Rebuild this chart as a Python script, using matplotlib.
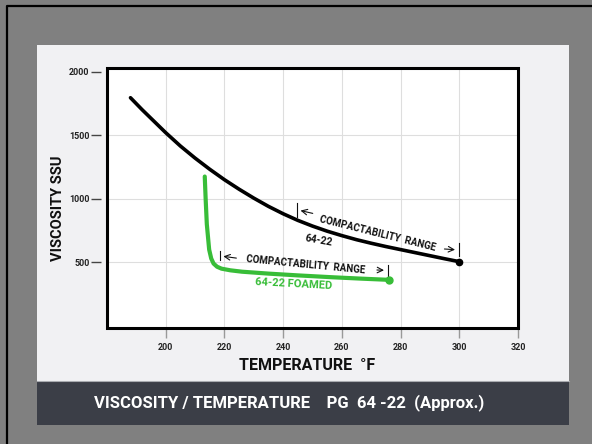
import matplotlib.pyplot as plt
from matplotlib.patches import Rectangle
from matplotlib.lines import Line2D

# values
temp_std = [188, 192, 196, 200, 205, 210, 215, 220, 225, 230, 235, 240, 245, 250,
            255, 260, 265, 270, 275, 280, 285, 290, 295, 300]
visc_std = [1795, 1700, 1610, 1520, 1415, 1320, 1232, 1150, 1075, 1005, 940, 882, 830, 785,
            745, 710, 678, 650, 624, 600, 576, 552, 528, 505]

temp_foam = [213.3, 213.6, 214.0, 214.8, 215.5, 216.3, 217.5, 219, 222, 226, 235, 245, 257, 267, 276]
visc_foam = [1175, 1000, 800, 600, 530, 490, 465, 450, 437, 426, 411, 397, 382, 371, 362]

x_ticks = [200, 220, 240, 260, 280, 300, 320]
y_ticks = [500, 1000, 1500, 2000]

FONT = ['Liberation Sans Narrow', 'Roboto', 'DejaVu Sans']
GREEN = '#38bd38'
W, H = 592, 444


def fx(px):
    return px / W


def fy(py):
    return 1 - py / H


fig = plt.figure(figsize=(5.92, 4.44), dpi=100)
fig.patch.set_facecolor('#808080')

# black frame lines at top and left
fig.add_artist(Line2D([fx(7), fx(7), 1], [0, fy(6), fy(6)], transform=fig.transFigure,
                      color='black', lw=1.6, zorder=-2))
# light panel and dark title band
fig.add_artist(Rectangle((fx(37), fy(381)), 532 / W, 336 / H, transform=fig.transFigure,
                         facecolor='#f1f1f3', edgecolor='none', zorder=-2))
fig.add_artist(Rectangle((fx(37), fy(425)), 532 / W, 44 / H, transform=fig.transFigure,
                         facecolor='#3b3e47', edgecolor='none', zorder=-2))
fig.add_artist(Line2D([fx(37), fx(569)], [fy(381), fy(381)], transform=fig.transFigure,
                      color='#a9abb0', lw=0.8, zorder=-1))

ax = fig.add_axes([fx(107), fy(328), 411 / W, 260 / H])
ax.set_facecolor('white')
ax.set_xlim(180, 320)
ax.set_ylim(-17, 2029)

for x in x_ticks[:-1]:
    ax.axvline(x, color='#dedede', lw=0.8, zorder=0)
for y in y_ticks[:-1]:
    ax.axhline(y, color='#dedede', lw=0.8, zorder=0)

ax.plot(temp_std, visc_std, color='black', lw=2.6, solid_capstyle='round',
        solid_joinstyle='round', zorder=3)
ax.plot(temp_std[-1], visc_std[-1], 'o', color='black', ms=4.5, zorder=3)
ax.plot(temp_foam, visc_foam, color=GREEN, lw=3.0, solid_capstyle='round',
        solid_joinstyle='round', zorder=3)
ax.plot(temp_foam[-1], visc_foam[-1], 'o', color=GREEN, ms=5, zorder=3)

# frame drawn separately so the y ticks can sit away from it
for s in ax.spines.values():
    s.set_visible(False)
ax.spines['left'].set_position(('outward', 4))
ax.add_patch(Rectangle((0, 0), 1, 1, transform=ax.transAxes, fill=False,
                       edgecolor='black', lw=2.2, zorder=5, clip_on=False))

ax.set_xticks(x_ticks)
ax.set_yticks(y_ticks)
ax.tick_params(axis='y', direction='out', length=7, width=1.0, color='#444444', pad=1.5)
ax.tick_params(axis='x', direction='out', length=7.5, width=1.0, color='#999999', pad=3)
for lab in ax.get_xticklabels() + ax.get_yticklabels():
    lab.set_family(FONT)
    lab.set_fontweight('bold')
    lab.set_fontsize(6.5)
    lab.set_color('#222222')

# compactability range, standard binder
ax.text(272, 728, 'COMPACTABILITY  RANGE', rotation=-14, ha='center',
        va='center', family=FONT, fontweight='bold', fontsize=7, color='#111111', zorder=4)
ax.plot([244.8, 244.8], [860, 965], color='#111111', lw=0.8)
ax.annotate('', xy=(245, 912), xytext=(251, 880),
            arrowprops=dict(arrowstyle='->', lw=0.8, color='#111111'))
ax.annotate('', xy=(299.5, 598), xytext=(294, 606),
            arrowprops=dict(arrowstyle='->', lw=0.8, color='#111111'))
ax.plot([299.8, 299.8], [550, 650], color='#111111', lw=0.8)
ax.text(252, 675, '64-22', rotation=-10, ha='center', va='center',
        family=FONT, fontweight='bold', fontsize=7.5, color='#111111', zorder=4)

# compactability range, foamed binder
ax.text(247.5, 477, 'COMPACTABILITY  RANGE', rotation=-5.5, ha='center',
        va='center', family=FONT, fontweight='bold', fontsize=7, color='#111111', zorder=4)
ax.plot([218.5, 218.5], [515, 585], color='#111111', lw=0.8)
ax.annotate('', xy=(218.7, 550), xytext=(225, 530),
            arrowprops=dict(arrowstyle='->', lw=0.8, color='#111111'))
ax.annotate('', xy=(275.3, 437), xytext=(271, 440),
            arrowprops=dict(arrowstyle='->', lw=0.8, color='#111111'))
ax.plot([275.8, 275.8], [390, 480], color='#111111', lw=0.8)
ax.text(243.7, 333, '64-22 FOAMED', rotation=-3, ha='center', va='center',
        family=FONT, fontweight='bold', fontsize=8, color=GREEN, zorder=4)

fig.text(fx(58), fy(208), 'VISCOSITY SSU', rotation=90, ha='center', va='center',
         family=FONT, fontweight='bold', fontsize=10.5, color='#111111')
fig.text(fx(307), fy(365), 'TEMPERATURE  \u00b0F', ha='center', va='center',
         family=FONT, fontweight='bold', fontsize=11.5, color='#111111')
fig.text(fx(289), fy(403), 'VISCOSITY / TEMPERATURE    PG  64 -22  (Approx.)',
         ha='center', va='center', family=FONT, fontweight='bold', fontsize=12,
         color='white')

fig.savefig('out.png', dpi=100, facecolor=fig.get_facecolor())
